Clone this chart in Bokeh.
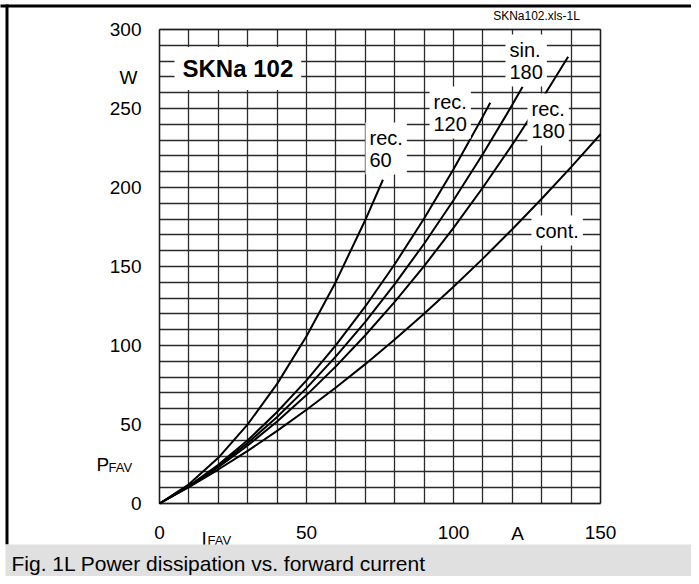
from bokeh.plotting import figure
from bokeh.models import Range1d, FixedTicker, Label, BoxAnnotation, LinearAxis, Grid
from bokeh.embed import file_html
from bokeh.resources import INLINE

# ---------------- data ----------------
x_ticks = [0, 50, 100, 150]
y_ticks = [0, 50, 100, 150, 200, 250, 300]
x_grid = [0, 10, 20, 30, 40, 50, 60, 70, 80, 90, 100, 110, 120, 130, 140, 150]
y_grid = [0, 10, 20, 30, 40, 50, 60, 70, 80, 90, 100, 110, 120, 130, 140, 150,
          160, 170, 180, 190, 200, 210, 220, 230, 240, 250, 260, 270, 280, 290, 300]

i_rec60 = [0, 10, 20, 30, 40, 50, 60, 70, 76]
p_rec60 = [0, 12.2, 28.9, 50.1, 75.7, 105.8, 140.4, 179.4, 204.9]

i_rec120 = [0, 10, 20, 30, 40, 50, 60, 70, 80, 90, 100, 110, 112.5]
p_rec120 = [0, 11.1, 24.5, 40.0, 57.9, 77.9, 100.2, 124.7, 151.4, 180.4, 211.6, 245.0, 253.7]

i_sin180 = [0, 10, 20, 30, 40, 50, 60, 70, 80, 90, 100, 110, 120, 123.5]
p_sin180 = [0, 10.9, 23.7, 38.3, 54.7, 73.0, 93.1, 115.0, 138.8, 164.4, 191.9, 221.2, 252.3, 263.7]

i_rec180 = [0, 10, 20, 30, 40, 50, 60, 70, 80, 90, 100, 110, 120, 130, 139]
p_rec180 = [0, 10.7, 23.0, 36.7, 51.9, 68.6, 86.8, 106.5, 127.6, 150.3, 174.4, 200.0, 227.1, 255.7, 282.7]

i_cont = [0, 10, 20, 30, 40, 50, 60, 70, 80, 90, 100, 110, 120, 130, 140, 150]
p_cont = [0, 10.4, 21.5, 33.3, 46.0, 59.3, 73.4, 88.2, 103.8, 120.1, 137.2, 155.0, 173.6, 192.9, 212.9, 233.7]

X_MAX, Y_MAX = 150, 300

FONT = "Liberation Sans"

# ---------------- layout geometry (pixels) ----------------
W_PX, H_PX = 691, 576
FX0, FX1 = 159, 600      # plot area left / right
FY0, FY1 = 29, 503       # plot area top / bottom
SX = (FX1 - FX0) / X_MAX
SY = (FY1 - FY0) / Y_MAX


def dx(px):
    return (px - FX0) / SX


def dy(py):
    return (FY1 - py) / SY


p = figure(width=W_PX, height=H_PX, output_backend="svg", toolbar_location=None,
           x_range=Range1d(dx(0), dx(W_PX)), y_range=Range1d(dy(H_PX), dy(0)),
           x_axis_location=None, y_axis_location=None, min_border=0)
p.outline_line_color = None
p.background_fill_color = "white"
p.border_fill_color = "white"
for g in p.grid:
    g.visible = False

# grid (every 10 A / 10 W)
xg = Grid(dimension=0, ticker=FixedTicker(ticks=x_grid), bounds=(0, X_MAX), cross_bounds=(0, Y_MAX))
yg = Grid(dimension=1, ticker=FixedTicker(ticks=y_grid), bounds=(0, Y_MAX), cross_bounds=(0, X_MAX))
for g in (xg, yg):
    g.grid_line_color = "#2a2a2a"
    g.grid_line_width = 1.3
    g.grid_line_alpha = 1.0
    p.add_layout(g)

# axes
yax = LinearAxis(fixed_location=0, ticker=FixedTicker(ticks=y_ticks), bounds=(0, Y_MAX))
xax = LinearAxis(fixed_location=0, ticker=FixedTicker(ticks=x_ticks), bounds=(0, X_MAX))
for ax in (xax, yax):
    ax.axis_line_color = None
    ax.major_tick_line_color = None
    ax.minor_tick_line_color = None
    ax.major_label_text_font = FONT
    ax.major_label_text_font_size = "19px"
    ax.major_label_text_color = "black"
yax.major_label_standoff = 12
xax.major_label_standoff = 16
p.add_layout(yax, "left")
p.add_layout(xax, "below")

# curves
for xs, ys in ((i_rec60, p_rec60), (i_rec120, p_rec120), (i_sin180, p_sin180),
               (i_rec180, p_rec180), (i_cont, p_cont)):
    p.line(xs, ys, line_color="black", line_width=2)

# plot-area frame
p.add_layout(BoxAnnotation(left=0, right=X_MAX, bottom=0, top=Y_MAX,
                           fill_color=None, line_color="black", line_width=2))


def lab(px, py, text, size="19px", align="left", baseline="middle", bg=None,
        pad=0, style="normal", lh=1.0):
    kw = dict(x=dx(px), y=dy(py), text=text, text_font=FONT, text_font_size=size,
              text_align=align, text_baseline=baseline, text_color="black",
              text_font_style=style, text_line_height=lh)
    if bg is not None:
        kw.update(background_fill_color=bg, background_fill_alpha=1.0, padding=pad)
    p.add_layout(Label(**kw))


# curve labels (white boxes)
lab(365, 148, "rec.\n60", size="20px", bg="white", pad=4)
lab(429, 112, "rec.\n120", size="20px", bg="white", pad=4)
lab(505, 60, "sin.\n180", size="20px", bg="white", pad=4)
lab(527, 119, "rec.\n180", size="20px", bg="white", pad=4)
lab(531, 230, "cont.", size="20px", bg="white", pad=4)

# title box
lab(174, 68, "SKNa 102", size="24px", bg="white", pad=8, style="bold")

# file tag
lab(536, 15, "SKNa102.xls-1L", size="12px", align="center")

# axis units / symbols
lab(128, 77, "W", align="center")
lab(517, 533, "A", align="center")
lab(96, 464, "P", baseline="alphabetic")
lab(108, 467, "FAV", size="13px", baseline="alphabetic")
lab(201, 538, "I", baseline="alphabetic")
lab(207, 540, "FAV", size="13px", baseline="alphabetic")

# outer frame lines (top, left) and caption bar
p.add_layout(BoxAnnotation(left=dx(-10), right=dx(W_PX + 10), top=dy(4), bottom=dy(7),
                           fill_color="black", fill_alpha=1, line_color=None))
p.add_layout(BoxAnnotation(left=dx(5), right=dx(8), top=dy(4), bottom=dy(544),
                           fill_color="black", fill_alpha=1, line_color=None))
p.add_layout(BoxAnnotation(left=dx(5), right=dx(W_PX + 10), top=dy(544), bottom=dy(H_PX + 10),
                           fill_color="#e0e0e0", fill_alpha=1, line_color=None))
lab(11, 563, "Fig. 1L Power dissipation vs. forward current", size="21px")

open("out.html", "w").write(file_html(p, INLINE))
